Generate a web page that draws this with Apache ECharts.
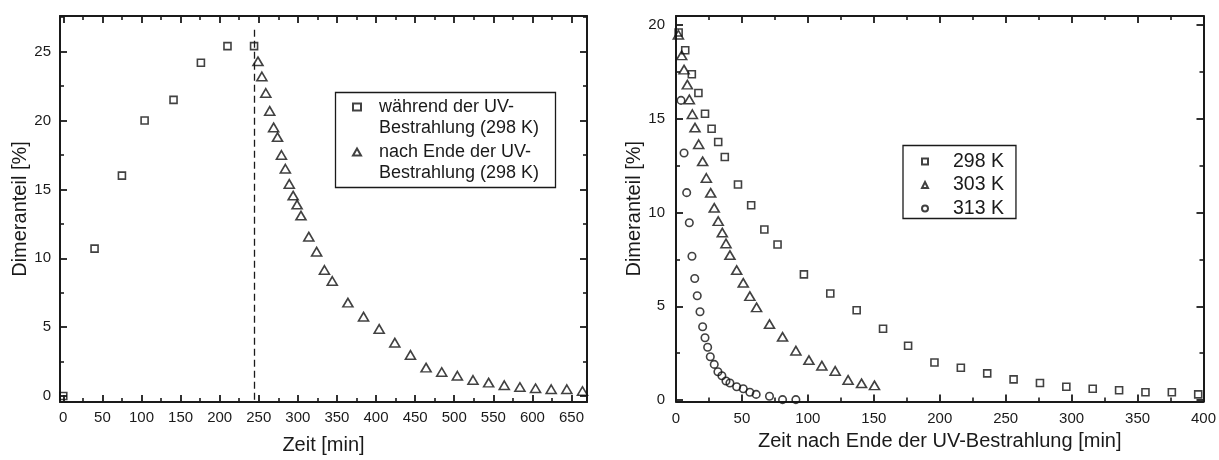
<!DOCTYPE html>
<html><head><meta charset="utf-8">
<script src="https://cdn.jsdelivr.net/npm/echarts@6/dist/echarts.min.js"></script>
<style>html,body{margin:0;padding:0;background:#fff}#c{width:1219px;height:460px}</style>
</head><body><div id="c"></div>
<script>
// ---------- Left chart data ----------
const duringX = [0, 40, 75, 104, 141, 176, 210, 244];
const duringY = [0, 10.7, 16.0, 20.0, 21.5, 24.2, 25.4, 25.4];
const afterX = [249, 254, 259, 264, 269, 274, 279, 284, 289, 294, 299, 304, 314, 324, 334, 344, 364, 384, 404, 424, 444, 464, 484, 504, 524, 544, 564, 584, 604, 624, 644, 664];
const afterY = [24.3, 23.2, 22.0, 20.7, 19.5, 18.8, 17.5, 16.5, 15.4, 14.55, 13.9, 13.1, 11.57, 10.48, 9.15, 8.35, 6.78, 5.76, 4.87, 3.87, 2.98, 2.06, 1.74, 1.47, 1.16, 0.97, 0.78, 0.65, 0.56, 0.49, 0.49, 0.36];
const vLineX = [244];
const vLineY = [26.6, -0.3];
const leftXMajor = [0, 50, 100, 150, 200, 250, 300, 350, 400, 450, 500, 550, 600, 650];
const leftXMinor = [25, 75, 125, 175, 225, 275, 325, 375, 425, 475, 525, 575, 625];
const leftYMajor = [0, 5, 10, 15, 20, 25];
const leftYMinor = [2.5, 7.5, 12.5, 17.5, 22.5, 27.5];
const leftNames = ['während der UV-Bestrahlung (298 K)', 'nach Ende der UV-Bestrahlung (298 K)'];

// ---------- Right chart data ----------
const k298X = [2, 7, 12, 17, 22, 27, 32, 37, 47, 57, 67, 77, 97, 117, 137, 157, 176, 196, 216, 236, 256, 276, 296, 316, 336, 356, 376, 396];
const k298Y = [19.6, 18.65, 17.37, 16.37, 15.27, 14.47, 13.76, 12.96, 11.49, 10.39, 9.09, 8.29, 6.70, 5.68, 4.79, 3.80, 2.89, 2.0, 1.72, 1.42, 1.10, 0.91, 0.71, 0.60, 0.52, 0.41, 0.41, 0.30];
const k303X = [1.8, 4.3, 6.1, 8.6, 10.1, 12.4, 14.4, 17.2, 20.2, 23, 26.3, 29, 32, 35.1, 37.9, 40.9, 46, 51, 56, 61.1, 70.9, 80.8, 90.9, 100.8, 110.6, 120.7, 130.5, 140.7, 150.5];
const k303Y = [19.48, 18.38, 17.62, 16.82, 16.03, 15.24, 14.53, 13.64, 12.73, 11.84, 11.05, 10.25, 9.54, 8.93, 8.35, 7.73, 6.93, 6.25, 5.54, 4.94, 4.05, 3.37, 2.63, 2.13, 1.83, 1.55, 1.07, 0.89, 0.78];
const k313X = [3.8, 6.1, 8.1, 10.1, 12.1, 14.2, 16.1, 18.2, 20.2, 22, 24, 26, 29, 31.8, 34.8, 37.9, 40.9, 46, 51, 56, 60.8, 70.9, 80.8, 90.9];
const k313Y = [15.98, 13.17, 11.06, 9.45, 7.67, 6.48, 5.56, 4.71, 3.91, 3.32, 2.81, 2.31, 1.90, 1.51, 1.29, 1.01, 0.91, 0.71, 0.60, 0.41, 0.30, 0.20, 0.02, 0.02];
const rightXMajor = [0, 50, 100, 150, 200, 250, 300, 350, 400];
const rightXMinor = [25, 75, 125, 175, 225, 275, 325, 375];
const rightYMajor = [0, 5, 10, 15, 20];
const rightYMinor = [2.5, 7.5, 12.5, 17.5];
const rightNames = ['298 K', '303 K', '313 K'];

const xTitleLeft = 'Zeit [min]';
const xTitleRight = 'Zeit nach Ende der UV-Bestrahlung [min]';
const yTitle = 'Dimeranteil [%]';

// ---------- helpers ----------
const FONT = '"Liberation Sans", Arial, Helvetica, sans-serif';
const INK = '#1a1a1a';
const zip = (xs, ys) => xs.map((x, i) => [x, ys[i]]);

function axisSet(dim, g, min, max, majors, minors, name, nameGap, labelMargin) {
  const posA = dim === 'x' ? 'bottom' : 'left';
  const posB = dim === 'x' ? 'top' : 'right';
  const base = { type: 'value', gridIndex: g, min: min, max: max, splitLine: { show: false } };
  const line = { show: true, onZero: false, lineStyle: { color: INK, width: 2 } };
  const noLine = { show: false, onZero: false };
  const tickMaj = (vals) => ({ show: true, inside: true, length: 7, customValues: vals, lineStyle: { color: INK, width: 1.8 } });
  const tickMin = (vals) => ({ show: true, inside: true, length: 4, customValues: vals, lineStyle: { color: INK, width: 1.6 } });
  return [
    Object.assign({}, base, {
      position: posA, axisLine: line, axisTick: tickMaj(majors),
      axisLabel: { customValues: majors, margin: labelMargin, fontSize: 15, color: INK, fontFamily: FONT },
      name: name, nameLocation: 'middle', nameGap: nameGap,
      nameTextStyle: { fontSize: 20, color: INK, fontFamily: FONT }
    }),
    Object.assign({}, base, { position: posA, axisLine: noLine, axisTick: tickMin(minors), axisLabel: { show: false } }),
    Object.assign({}, base, { position: posB, axisLine: line, axisTick: tickMaj(majors), axisLabel: { show: false } }),
    Object.assign({}, base, { position: posB, axisLine: noLine, axisTick: tickMin(minors), axisLabel: { show: false } })
  ];
}

const hollow = { color: 'rgba(0,0,0,0)', borderColor: '#111', borderWidth: 1.6 };

const option = {
  animation: false,
  backgroundColor: '#fff',
  grid: [
    { left: 60, top: 16, width: 527, height: 386 },
    { left: 676, top: 16, width: 528, height: 385.5 }
  ],
  xAxis: [].concat(
    axisSet('x', 0, -4.2, 669.8, leftXMajor, leftXMinor, xTitleLeft, 33, 8),
    axisSet('x', 1, 0, 400, rightXMajor, rightXMinor, xTitleRight, 30, 10)
  ),
  yAxis: [].concat(
    axisSet('y', 0, -0.436, 27.59, leftYMajor, leftYMinor, yTitle, 21, 9),
    axisSet('y', 1, -0.08, 20.48, rightYMajor, rightYMinor, yTitle, 27, 11)
  ),
  graphic: [
    { type: 'rect', left: 333, top: 90, shape: { width: 220, height: 95 },
      style: { fill: 'none', stroke: INK, lineWidth: 1.3 }, silent: true, z: 10 }
  ],
  legend: [
    {
      data: leftNames, orient: 'vertical', left: 352, top: 74.75, padding: 0,
      itemWidth: 8, itemHeight: 7, itemGap: -19.5,
      formatter: (n) => {
        const parts = n.split('UV-');
        return ' \n{g|}' + parts[0] + 'UV-\n{g|}' + parts[1];
      },
      textStyle: {
        fontSize: 18, color: INK, fontFamily: FONT, lineHeight: 21.5,
        rich: { g: { width: 13, lineHeight: 21.5 } }
      }
    },
    {
      data: rightNames, orient: 'vertical', left: 903, top: 145.5, padding: [6, 12, 0, 18],
      itemWidth: 6, itemHeight: 6, itemGap: 3.5,
      borderColor: INK, borderWidth: 1.3,
      formatter: (n) => '{g|}' + n,
      textStyle: {
        fontSize: 19.5, color: INK, fontFamily: FONT, lineHeight: 20,
        rich: { g: { width: 20, lineHeight: 20 } }
      }
    }
  ],
  series: [
    {
      name: leftNames[0], type: 'scatter', xAxisIndex: 0, yAxisIndex: 0,
      symbol: 'rect', symbolSize: 7, itemStyle: hollow, data: zip(duringX, duringY),
      markLine: {
        silent: true, symbol: 'none', label: { show: false },
        lineStyle: { type: [7, 4], color: INK, width: 1.3 },
        data: [[{ coord: [vLineX[0], vLineY[0]] }, { coord: [vLineX[0], vLineY[1]] }]]
      }
    },
    {
      name: leftNames[1], type: 'scatter', xAxisIndex: 0, yAxisIndex: 0,
      symbol: 'triangle', symbolSize: [10, 8.5], itemStyle: hollow, data: zip(afterX, afterY)
    },
    {
      name: rightNames[0], type: 'scatter', xAxisIndex: 4, yAxisIndex: 4,
      symbol: 'rect', symbolSize: 7, itemStyle: hollow, data: zip(k298X, k298Y)
    },
    {
      name: rightNames[1], type: 'scatter', xAxisIndex: 4, yAxisIndex: 4,
      symbol: 'triangle', symbolSize: [10, 8.5], itemStyle: hollow, data: zip(k303X, k303Y)
    },
    {
      name: rightNames[2], type: 'scatter', xAxisIndex: 4, yAxisIndex: 4,
      symbol: 'circle', symbolSize: 7.5, itemStyle: hollow, data: zip(k313X, k313Y)
    }
  ]
};

const chart = echarts.init(document.getElementById('c'), null, { renderer: 'canvas' });
chart.setOption(option);
</script>
</body></html>
